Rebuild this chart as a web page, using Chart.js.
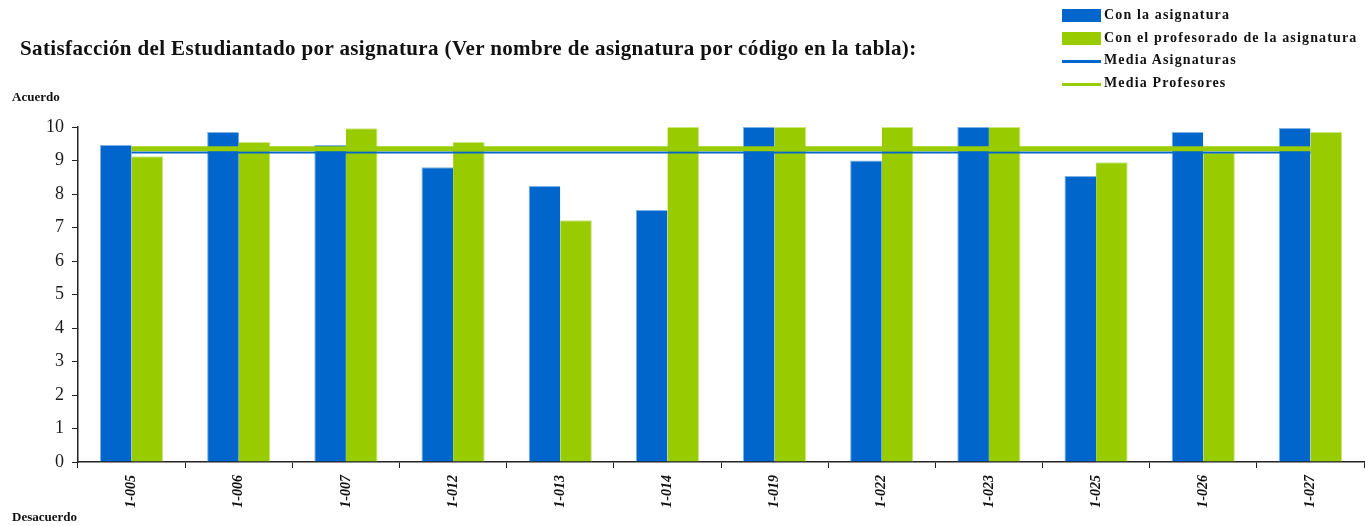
<!DOCTYPE html>
<html>
<head>
<meta charset="utf-8">
<script src="https://cdn.jsdelivr.net/npm/chart.js@4"></script>
<style>
  html, body { margin:0; padding:0; background:#fff; }
  #wrap { position:relative; width:1365px; height:526px; overflow:hidden; }
  canvas { position:absolute; left:0; top:0; }
  .txt { position:absolute; font-family:"Liberation Serif","Times New Roman",serif; font-weight:bold; color:#111; white-space:nowrap; }
  #title { left:20px; top:36px; font-size:21px; letter-spacing:0.38px; }
  #acuerdo { left:12px; top:89px; font-size:13px; }
  #desacuerdo { left:12px; top:509px; font-size:13px; }
  .leg { position:absolute; left:1062px; font-family:"Liberation Serif","Times New Roman",serif; font-weight:bold; font-size:14px; letter-spacing:1.15px; color:#111; white-space:nowrap; }
  .leg .sw { position:absolute; left:0; width:39px; }
  .leg .lb { position:absolute; left:42px; }
</style>
</head>
<body>
<div id="wrap">
  <canvas id="c" width="1365" height="526"></canvas>
  <div class="txt" id="title">Satisfacción del Estudiantado por asignatura (Ver nombre de asignatura por código en la tabla):</div>
  <div class="txt" id="acuerdo">Acuerdo</div>
  <div class="txt" id="desacuerdo">Desacuerdo</div>
  <div id="legend"></div>
</div>
<script>
const categories = ["1-005","1-006","1-007","1-012","1-013","1-014","1-019","1-022","1-023","1-025","1-026","1-027"];
const conAsignatura = [9.46, 9.85, 9.46, 8.80, 8.24, 7.52, 10.0, 9.00, 10.0, 8.54, 9.85, 9.97];
const conProfesorado = [9.13, 9.55, 9.96, 9.55, 7.22, 10.0, 10.0, 10.0, 10.0, 8.95, 9.25, 9.85];
const mediaAsignaturas = 9.24;
const mediaProfesores = 9.35;
const yTicks = [0,1,2,3,4,5,6,7,8,9,10];

const seriesNames = ["Con la asignatura","Con el profesorado de la asignatura","Media Asignaturas","Media Profesores"];
const blue = "#0066CC", green = "#99CC00";

const data = {
  labels: categories,
  datasets: [
    { type:'line', label: seriesNames[3], data: categories.map(() => mediaProfesores),
      borderColor: green, borderWidth: 5, pointRadius: 0, order: 1 },
    { type:'line', label: seriesNames[2], data: categories.map(() => mediaAsignaturas),
      borderColor: blue, borderWidth: 2, pointRadius: 0, order: 2 },
    { type:'bar', label: seriesNames[0], data: conAsignatura, backgroundColor: blue,
      borderColor: "#7fb2e5", borderWidth: {left:1, right:0, top:1, bottom:0}, order: 3,
      categoryPercentage: 0.59, barPercentage: 1.0 },
    { type:'bar', label: seriesNames[1], data: conProfesorado, backgroundColor: green,
      borderColor: "#cce680", borderWidth: {left:0, right:1, top:1, bottom:0}, order: 3,
      categoryPercentage: 0.59, barPercentage: 1.0 }
  ]
};

new Chart(document.getElementById('c'), {
  type: 'bar',
  data,
  options: {
    responsive: false,
    animation: false,
    layout: { padding: { top: 127, right: 1, left: 0, bottom: 0 } },
    plugins: { legend: { display: false }, tooltip: { enabled: false }, title: { display: false } },
    scales: {
      x: {
        offset: true,
        grid: { offset: true, drawOnChartArea: false, drawTicks: true, tickLength: 6, color: '#222', lineWidth: 1 },
        border: { color: '#222', width: 1.5 },
        ticks: { minRotation: 90, maxRotation: 90, padding: 7, color: '#111',
          font: { family: "'Liberation Serif', 'Times New Roman', serif", size: 14, weight: 'bold', style: 'italic' } },
        afterFit: (s) => { s.height = 526 - 462; }
      },
      y: {
        min: 0, max: 10,
        afterBuildTicks: (s) => { s.ticks = yTicks.map(v => ({ value: v })); },
        grid: { drawOnChartArea: false, drawTicks: true, tickLength: 6, color: '#222', lineWidth: 1 },
        border: { color: '#222', width: 1.5 },
        ticks: { padding: 8, color: '#1a1a1a',
          font: { family: "'Liberation Serif', 'Times New Roman', serif", size: 18 } },
        afterFit: (s) => { s.width = 78; }
      }
    }
  }
});

// HTML legend built from series names/colours
const legendItems = [
  { name: seriesNames[0], color: blue, box: true, y: 9 },
  { name: seriesNames[1], color: green, box: true, y: 32 },
  { name: seriesNames[2], color: blue, box: false, y: 60 },
  { name: seriesNames[3], color: green, box: false, y: 83 }
];
const legEl = document.getElementById('legend');
legendItems.forEach(it => {
  const row = document.createElement('div');
  row.className = 'leg';
  row.style.top = (it.y) + 'px';
  const sw = document.createElement('div');
  sw.className = 'sw';
  sw.style.background = it.color;
  sw.style.top = '0px';
  sw.style.height = it.box ? '13px' : '3px';
  const lb = document.createElement('div');
  lb.className = 'lb';
  lb.style.top = it.box ? '-2px' : '-8px';
  lb.textContent = it.name;
  row.appendChild(sw); row.appendChild(lb);
  legEl.appendChild(row);
});
</script>
</body>
</html>
